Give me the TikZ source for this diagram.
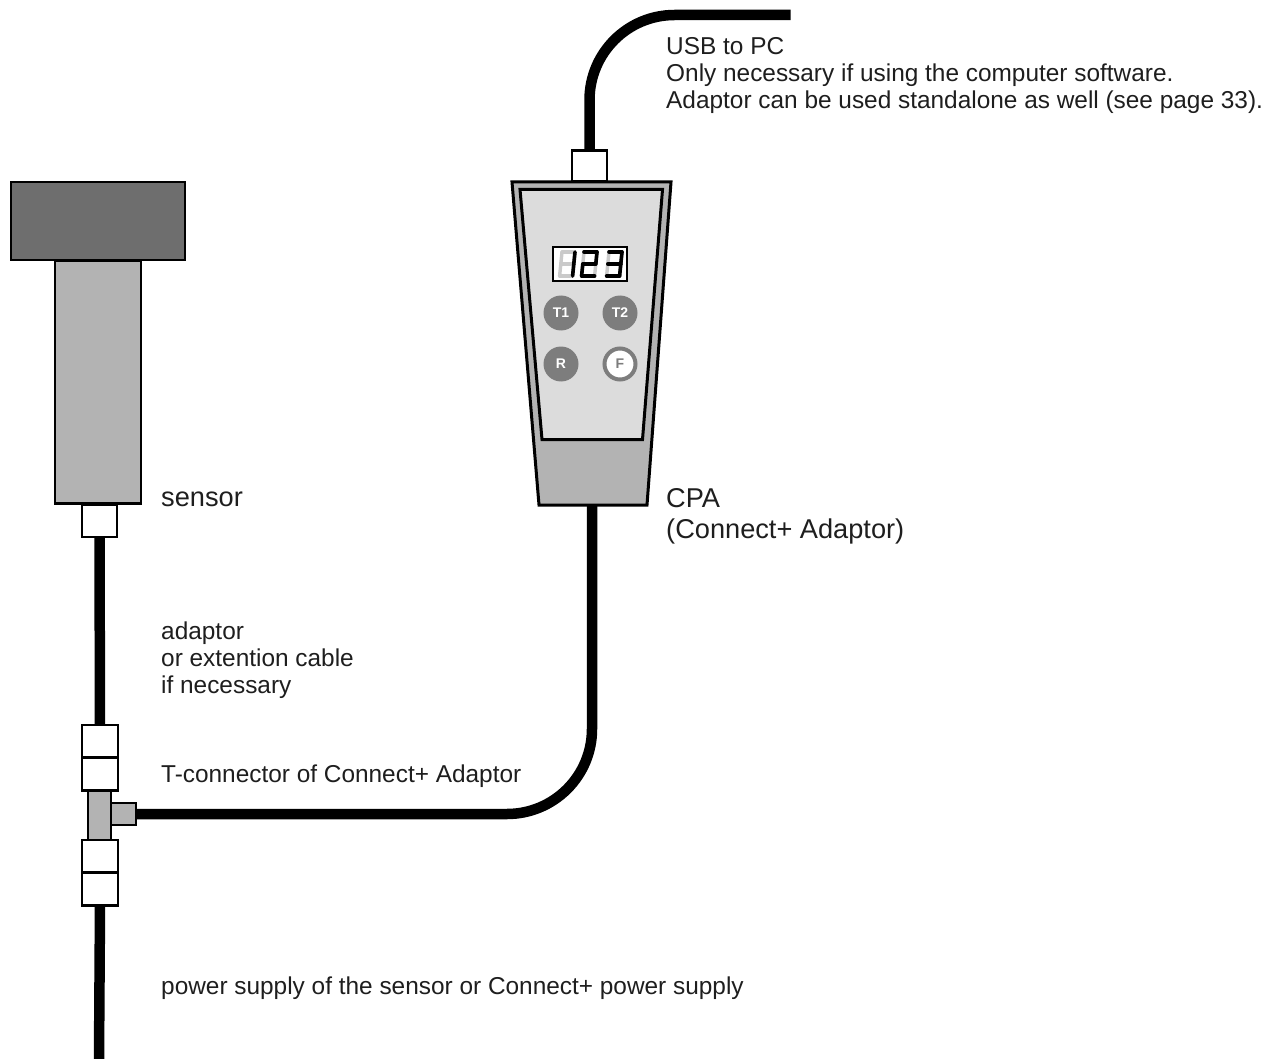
\documentclass[tikz,border=0pt]{standalone}
\usepackage{fontspec}
\setmainfont{Liberation Sans}
\usepackage{xcolor}
\definecolor{cpadark}{RGB}{110,110,110}
\definecolor{cpamid}{RGB}{179,179,179}
\definecolor{cpalight}{RGB}{220,220,220}
\definecolor{cpabtn}{RGB}{125,125,125}
\definecolor{cpatext}{RGB}{30,30,30}
\usetikzlibrary{positioning}
\tikzset{
  cable/.style={line width=10.5pt, black},
  plugbox/.style={draw, line width=2.8pt, fill=white, minimum width=36pt, minimum height=33pt, inner sep=0pt, outer sep=0pt},
  greybox/.style={draw, line width=2.8pt, fill=cpamid, inner sep=0pt, outer sep=0pt},
  cpashape/.style={draw, line width=3pt, line join=miter},
  btn/.style={circle, fill=cpabtn, text=white, minimum size=35pt, inner sep=0pt, font=\fontsize{14}{14}\selectfont\bfseries},
  lbl/.style={anchor=west, align=left, inner sep=0pt, text=cpatext, font=\fontsize{24.4}{27}\selectfont},
  biglbl/.style={anchor=west, align=left, inner sep=0pt, text=cpatext, font=\fontsize{27.2}{31}\selectfont},
  ghostseg/.style={line width=3.4pt, line cap=round, cpalight!92!black},
  liveseg/.style={line width=3.6pt, line cap=round, black}
}
\begin{document}
\begin{tikzpicture}[x=1pt, y=-1pt]
  \useasboundingbox (0,0) rectangle (1277,1059);
  % Sensor
  \node[greybox, fill=cpadark, minimum width=174pt, minimum height=78pt] (sensorhead) at (98,221) {};
  \node[greybox, minimum width=86pt, minimum height=243pt] (sensorbody) at (98,382) {};
  \node[plugbox, minimum width=35pt, minimum height=32pt] (sensorplug) at (99.5,521) {};
  % T-connector
  \node[greybox, minimum width=23pt, minimum height=50pt] (tbody) at (99.5,815) {};
  \node[greybox, minimum width=25pt, minimum height=22pt] (tside) at (123.5,814) {};
  \foreach \name/\ypos in {tupa/741.5, tupb/774, tlowa/856.5, tlowb/889} {
    \node[plugbox] (\name) at (100,\ypos) {};
  }
  % Adaptor
  \node[plugbox, minimum width=35pt, minimum height=31pt] (usbplug) at (589.5,166) {};
  \draw[cpashape, fill=cpamid] (512,182) -- (671,182) -- (647,505) -- (539,505) -- cycle;
  \draw[cpashape, fill=cpalight] (520,189.5) -- (662.5,189.5) -- (642.5,439.5) -- (542,439.5) -- cycle;
  \coordinate (cpabottom) at (592,505);
  % Display
  \node[draw, line width=1.2pt, fill=white, minimum width=74pt, minimum height=34pt, inner sep=0pt] (display) at (590,264) {};
  \foreach \dx/\lit in {562/{tr/mr,mr/br}, 584/{tl/tr,tr/mr,ml/mr,ml/bl,bl/br}, 609/{tl/tr,tr/mr,ml/mr,mr/br,bl/br}} {
    \begin{scope}[shift={(\dx,252)}, xslant=0.1]
      \coordinate (tl) at (0,0);
      \coordinate (tr) at (13,0);
      \coordinate (ml) at (0,12);
      \coordinate (mr) at (13,12);
      \coordinate (bl) at (0,24);
      \coordinate (br) at (13,24);
      \foreach \p/\q in {tl/tr,tr/mr,mr/br,bl/br,ml/bl,tl/ml,ml/mr} {
        \draw[ghostseg] (\p) -- (\q);
      }
      \foreach \p/\q in \lit {
        \draw[liveseg] (\p) -- (\q);
      }
    \end{scope}
  }
  % Buttons
  \foreach \name/\xpos/\ypos/\txt in {btnta/561/313/T1, btntb/620/313/T2, btnr/561/364/R} {
    \node[btn] (\name) at (\xpos,\ypos) {\txt};
  }
  \node[btn, fill=white, draw=cpabtn, line width=4pt, minimum size=31pt, text=cpabtn] (btnf) at (620,364) {F};
  % Cables
  \coordinate (usbend) at (790.5,15);
  \coordinate (supplyend) at (99,1059);
  \draw[cable, rounded corners=85pt] (usbplug.north) |- (usbend);
  \draw[cable] (sensorplug.south) -- (tupa.north);
  \draw[cable] (tlowb.south) -- (supplyend);
  \draw[cable, rounded corners=85pt] (tside.east) -| (cpabottom);
  % Labels
  \node[lbl] (usblabel) at (666,75.5) {USB to PC\\Only necessary if using the computer software.\\Adaptor can be used standalone as well (see page 33).};
  \node[biglbl] (sensorlabel) at (161,499.5) {sensor};
  \node[biglbl] (cpalabel) at (666,516) {CPA\\(Connect+ Adaptor)};
  \node[lbl] (cablelabel) at (161,660) {adaptor\\or extention cable\\if necessary};
  \node[lbl] (tlabel) at (161,776) {T-connector of Connect+ Adaptor};
  \node[lbl] (supplylabel) at (161,988) {power supply of the sensor or Connect+ power supply};
\end{tikzpicture}
\end{document}
